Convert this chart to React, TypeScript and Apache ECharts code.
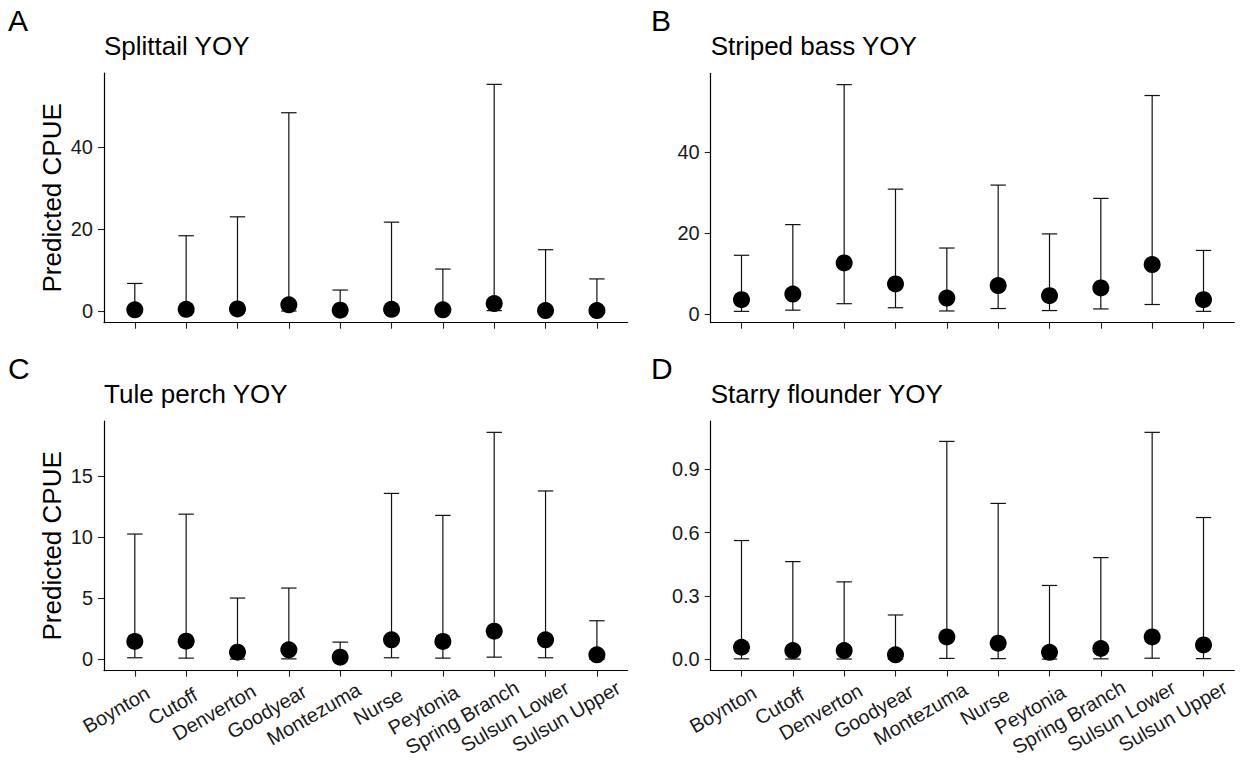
import React, { useEffect, useRef } from "react";
import * as echarts from "echarts";

// ---------------- data ----------------
const sites = [
  "Boynton",
  "Cutoff",
  "Denverton",
  "Goodyear",
  "Montezuma",
  "Nurse",
  "Peytonia",
  "Spring Branch",
  "Sulsun Lower",
  "Sulsun Upper",
];

const splittailMean = [0.4, 0.5, 0.6, 1.6, 0.3, 0.5, 0.4, 1.9, 0.2, 0.2];
const splittailLower = [0.03, 0.04, 0.05, 0.1, 0.02, 0.04, 0.03, 0.2, 0.02, 0.02];
const splittailUpper = [6.8, 18.4, 23.0, 48.3, 5.2, 21.7, 10.3, 55.2, 15.0, 7.9];
const splittailTicks = [0, 20, 40];

const stripedMean = [3.5, 4.9, 12.6, 7.4, 3.9, 7.0, 4.5, 6.4, 12.2, 3.5];
const stripedLower = [0.6, 0.9, 2.5, 1.5, 0.7, 1.3, 0.8, 1.2, 2.3, 0.6];
const stripedUpper = [14.5, 22.1, 56.8, 30.9, 16.3, 31.9, 19.8, 28.6, 54.1, 15.7];
const stripedTicks = [0, 20, 40];

const tuleMean = [1.48, 1.5, 0.6, 0.79, 0.19, 1.61, 1.48, 2.32, 1.61, 0.38];
const tuleLower = [0.14, 0.11, 0.03, 0.05, 0.01, 0.14, 0.11, 0.19, 0.14, 0.02];
const tuleUpper = [10.27, 11.9, 5.03, 5.85, 1.42, 13.6, 11.8, 18.6, 13.8, 3.17];
const tuleTicks = [0, 5, 10, 15];

const flounderMean = [0.057, 0.041, 0.041, 0.021, 0.106, 0.076, 0.033, 0.051, 0.106, 0.068];
const flounderLower = [0.002, 0.001, 0.001, 0.0005, 0.004, 0.003, 0.001, 0.002, 0.005, 0.003];
const flounderUpper = [0.563, 0.463, 0.367, 0.21, 1.033, 0.739, 0.35, 0.482, 1.076, 0.672];
const flounderTicks = [0, 0.3, 0.6, 0.9];

const panelLetters = ["A", "B", "C", "D"];
const panelTitles = ["Splittail YOY", "Striped bass YOY", "Tule perch YOY", "Starry flounder YOY"];
const yAxisTitle = "Predicted CPUE";

// ---------------- layout / style ----------------
const FONT = '"Liberation Sans", Arial, Helvetica, sans-serif';
const TICK_FS = 20;
const layout = [
  { left: 104, top: 73, width: 523.7, height: 249.7, letterX: 8, letterY: 5, titleY: 33, showX: false, showName: true },
  { left: 710.7, top: 73.3, width: 523.6, height: 249.4, letterX: 651, letterY: 5, titleY: 33, showX: false, showName: false },
  { left: 104, top: 421, width: 523.7, height: 249.7, letterX: 8, letterY: 353, titleY: 380.5, showX: true, showName: true },
  { left: 710.7, top: 421, width: 523.6, height: 249.5, letterX: 651, letterY: 353, titleY: 380.5, showX: true, showName: false },
];

function expand(lo: number, hi: number) {
  const r = hi - lo;
  return [lo - 0.05 * r, hi + 0.05 * r];
}

function measure(text: string) {
  const c = document.createElement("canvas").getContext("2d");
  if (!c) return text.length * 10;
  c.font = `${TICK_FS}px "Liberation Sans"`;
  return c.measureText(text).width;
}

export default function App() {
  const ref = useRef<HTMLDivElement>(null);

  useEffect(() => {
    if (!ref.current) return;
    const chart = echarts.init(ref.current, undefined, { renderer: "svg" });

    const panels = [
      { mean: splittailMean, lower: splittailLower, upper: splittailUpper, ticks: splittailTicks, dec: 0 },
      { mean: stripedMean, lower: stripedLower, upper: stripedUpper, ticks: stripedTicks, dec: 0 },
      { mean: tuleMean, lower: tuleLower, upper: tuleUpper, ticks: tuleTicks, dec: 0 },
      { mean: flounderMean, lower: flounderLower, upper: flounderUpper, ticks: flounderTicks, dec: 1 },
    ];

    const siteIdx = sites.map((_, i) => i);

    // rotated labels: anchor ~79% along the text (like ggplot hjust)
    const rich: any = {};
    sites.forEach((s, i) => {
      const w = measure(s);
      rich["l" + i] = {
        padding: [0, Math.round(0.582 * w), 0, 0],
        fontSize: TICK_FS,
        color: "#1a1a1a",
        fontFamily: FONT,
      };
    });

    const grid: any[] = [];
    const xAxis: any[] = [];
    const yAxis: any[] = [];
    const series: any[] = [];
    const title: any[] = [];
    const graphic: any[] = [];

    panels.forEach((p, k) => {
      const L = layout[k];
      grid.push({ left: L.left, top: L.top, width: L.width, height: L.height, containLabel: false });
      const all = [...p.lower, ...p.mean, ...p.upper];
      const [ymin, ymax] = expand(Math.min(...all), Math.max(...all));

      xAxis.push({
        type: "value",
        gridIndex: k,
        min: -0.6,
        max: sites.length - 1 + 0.6,
        splitLine: { show: false },
        axisLine: { show: true, onZero: false, lineStyle: { color: "#000", width: 1.2 } },
        axisTick: { show: true, length: 6, customValues: siteIdx, lineStyle: { color: "#222", width: 1.1 } },
        axisLabel: {
          show: L.showX,
          customValues: siteIdx,
          formatter: (v: number) => {
            const i = Math.round(v);
            return sites[i] ? `{l${i}|${sites[i]}}` : "";
          },
          rich,
          rotate: 30,
          align: "center",
          verticalAlign: "middle",
          margin: 28,
          fontSize: TICK_FS,
          color: "#1a1a1a",
          fontFamily: FONT,
          hideOverlap: false,
        },
      });

      yAxis.push({
        type: "value",
        gridIndex: k,
        min: ymin,
        max: ymax,
        splitLine: { show: false },
        axisLine: { show: true, onZero: false, lineStyle: { color: "#000", width: 1.2 } },
        axisTick: { show: true, length: 6, customValues: p.ticks, lineStyle: { color: "#222", width: 1.1 } },
        axisLabel: {
          customValues: p.ticks,
          formatter: (v: number) => v.toFixed(p.dec),
          margin: 11,
          fontSize: TICK_FS,
          color: "#1a1a1a",
          fontFamily: FONT,
        },
        name: L.showName ? yAxisTitle : "",
        nameLocation: "middle",
        nameGap: 39,
        nameTextStyle: { fontSize: 26, color: "#000", fontFamily: FONT },
      });

      series.push({
        type: "custom",
        xAxisIndex: k,
        yAxisIndex: k,
        z: 2,
        data: siteIdx.map((i) => [i, p.lower[i], p.upper[i]]),
        encode: { x: 0, y: [1, 2] },
        renderItem: (params: any, api: any) => {
          const x = api.value(0);
          const lo = api.value(1);
          const hi = api.value(2);
          const a = api.coord([x, lo]);
          const b = api.coord([x, hi]);
          const hw = api.coord([x + 0.15, lo])[0] - a[0];
          const st = { stroke: "#111", lineWidth: 1.2 };
          return {
            type: "group",
            children: [
              { type: "line", shape: { x1: a[0], y1: a[1], x2: b[0], y2: b[1] }, style: st },
              { type: "line", shape: { x1: a[0] - hw, y1: a[1], x2: a[0] + hw, y2: a[1] }, style: st },
              { type: "line", shape: { x1: b[0] - hw, y1: b[1], x2: b[0] + hw, y2: b[1] }, style: st },
            ],
          };
        },
      });

      series.push({
        type: "scatter",
        xAxisIndex: k,
        yAxisIndex: k,
        z: 3,
        symbol: "circle",
        symbolSize: 17,
        itemStyle: { color: "#000", opacity: 1 },
        data: siteIdx.map((i) => [i, p.mean[i]]),
      });

      title.push({
        text: panelTitles[k],
        left: L.left,
        top: L.titleY,
        padding: 0,
        textStyle: { fontSize: 26, fontWeight: "normal", color: "#000", fontFamily: FONT },
      });

      graphic.push({
        type: "text",
        left: L.letterX,
        top: L.letterY,
        style: { text: panelLetters[k], fontSize: 30, fill: "#000", font: `30px ${FONT}` },
      });
    });

    chart.setOption({
      animation: false,
      backgroundColor: "#fff",
      textStyle: { fontFamily: FONT },
      title,
      grid,
      xAxis,
      yAxis,
      series,
      graphic,
    });

    return () => chart.dispose();
  }, []);

  return (
    <div
      ref={ref}
      style={{ position: "absolute", left: 0, top: 0, width: 1241, height: 762, background: "#fff" }}
    />
  );
}
